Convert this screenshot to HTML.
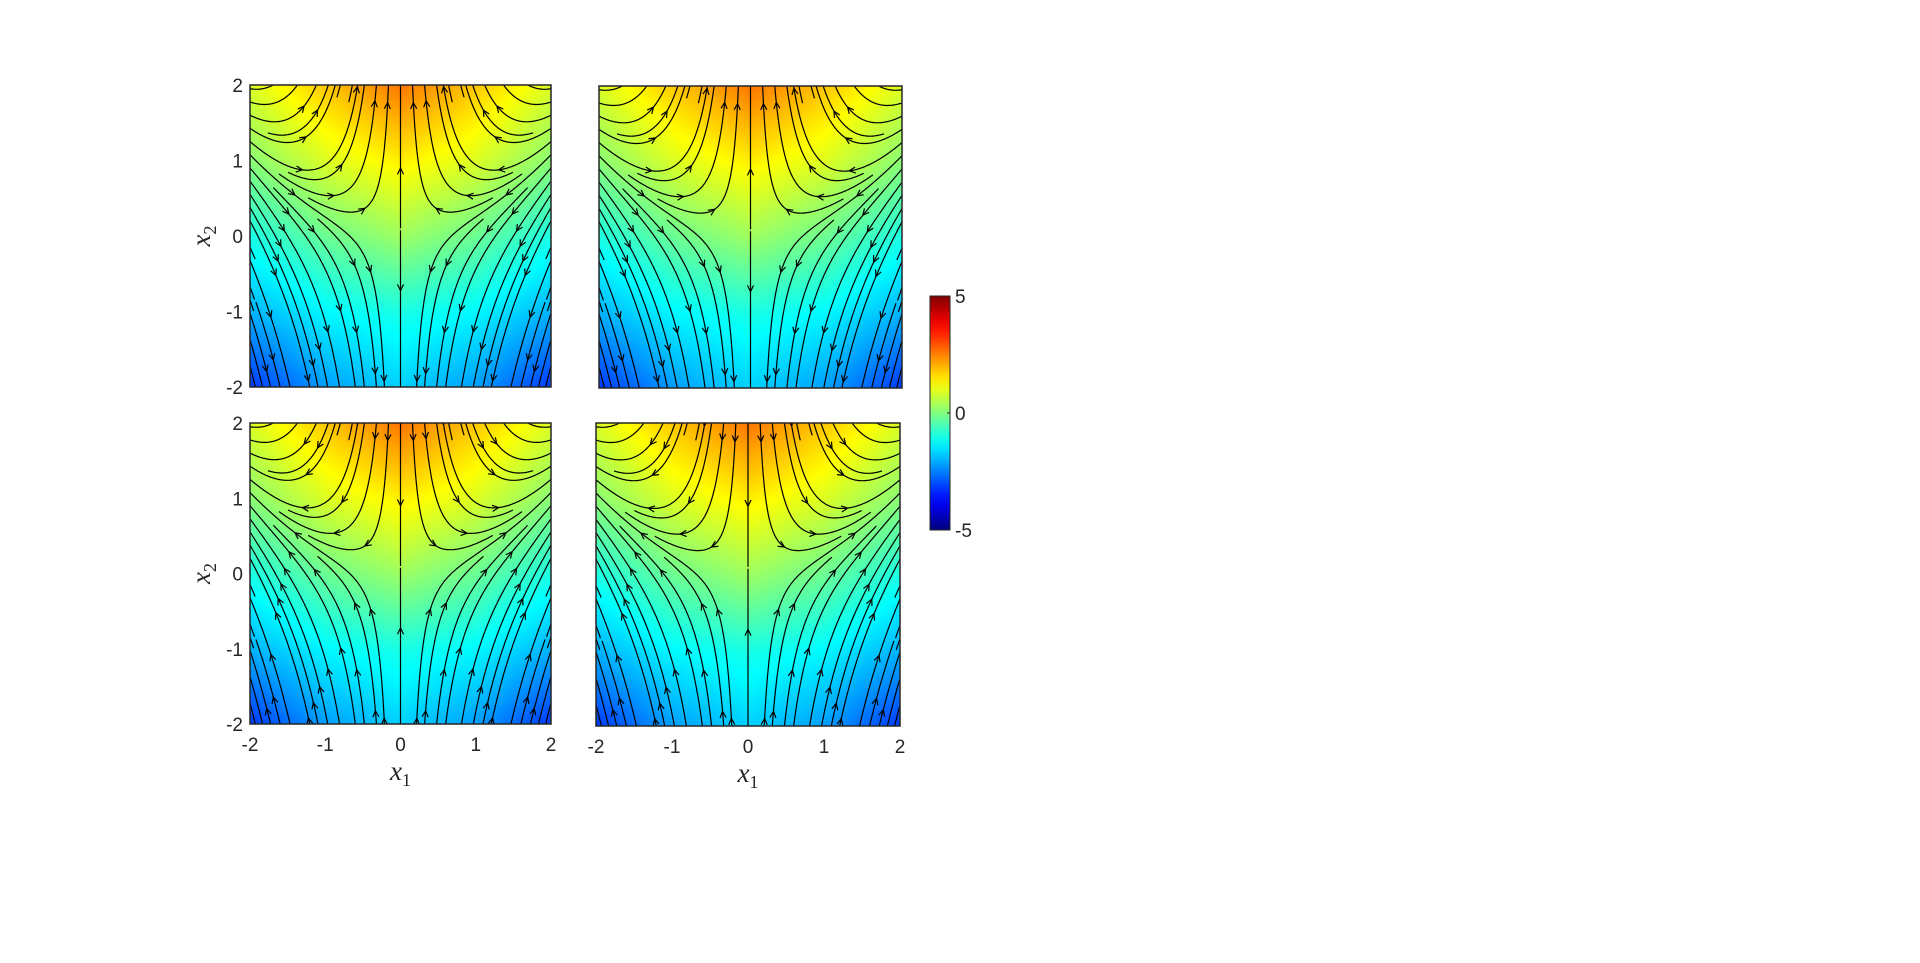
<!DOCTYPE html>
<html><head><meta charset="utf-8"><style>
body{margin:0;background:#fff;width:1920px;height:963px;overflow:hidden;position:relative;font-family:"Liberation Sans",sans-serif}
canvas{position:absolute}
svg{position:absolute;left:0;top:0}
</style></head><body>
<div id="root"></div>
<svg id="s" width="1920" height="963"></svg>
<script>
// data arrays
const xTicks=[-2,-1,0,1,2];
const yTicks=[-2,-1,0,1,2];
const cbTicks=[-5,0,5];
const heatRow2=[0.9,1.8,2.6,1.8,0.9];
const heatRow1=[0.1,0.9,1.4,0.9,0.1];
const heatRow0=[-1.0,-0.2,0.3,-0.2,-1.0];
const heatRowM1=[-2.0,-1.3,-1.0,-1.3,-2.0];
const heatRowM2=[-3.2,-2.2,-1.7,-2.2,-3.2];
const heat=[heatRow2,heatRow1,heatRow0,heatRowM1,heatRowM2];
const fieldGain=[2];
const fieldSaddleY=[0.1];

const panels=[
 {x0:250,x1:551,y0:85,y1:387,rev:false,ylab:true,xlab:false,name:'top-left'},
 {x0:599,x1:902,y0:86,y1:388,rev:false,ylab:false,xlab:false,name:'top-right'},
 {x0:250,x1:551,y0:423,y1:724,rev:true,ylab:true,xlab:true,name:'bottom-left'},
 {x0:596,x1:900,y0:423,y1:726,rev:true,ylab:false,xlab:true,name:'bottom-right'}];
const NS='http://www.w3.org/2000/svg';
const svg=document.getElementById('s');
function mk(t,a,p){const e=document.createElementNS(NS,t);for(const k in a)e.setAttribute(k,a[k]);(p||svg).appendChild(e);return e;}
function jet(v){v=Math.max(0,Math.min(1,v));
 const r=Math.max(0,Math.min(1,Math.min(4*v-1.5,-4*v+4.5)));
 const g=Math.max(0,Math.min(1,Math.min(4*v-0.5,-4*v+3.5)));
 const b=Math.max(0,Math.min(1,Math.min(4*v+0.5,-4*v+2.5)));
 return [r*255,g*255,b*255];}
function hv(x,y){
 let fi=(x+2),fj=(2-y);let i=Math.min(3,Math.floor(fi)),j=Math.min(3,Math.floor(fj));
 let u=fi-i,w=fj-j;
 return heat[j][i]*(1-u)*(1-w)+heat[j][i+1]*u*(1-w)+heat[j+1][i]*(1-u)*w+heat[j+1][i+1]*u*w;}
function F(x,y){return [-x,fieldGain[0]*(y-fieldSaddleY[0])-x*x];}
const NC=52,occ=new Int32Array(NC*NC).fill(-1);
function cell(x,y){const i=Math.floor((x+2)/4*NC),j=Math.floor((y+2)/4*NC);if(i<0||j<0||i>=NC||j>=NC)return -1;return j*NC+i;}
function half(x,y,dir,id){const pts=[];const h=0.008;
 for(let n=0;n<4000;n++){
  const k=F(x,y);let dx=k[0]*dir,dy=k[1]*dir;const m=Math.hypot(dx,dy);if(m<1e-3)break;
  x+=h*dx/m;y+=h*dy/m;
  if(x<-2||x>2||y<-2||y>2)break;
  const c=cell(x,y);if(c<0)break;if(occ[c]>=0&&occ[c]!==id)break;
  pts.push([x,y]);}
 return pts;}
const paths=[];
const seeds=[[0,0.14],[0,-0.06]];
for(let k=0;k<23;k++){const y=-1.9+k*0.175;seeds.push([-1.999,y]);seeds.push([1.999,y]);}
for(let k=0;k<25;k++){const x=-1.92+k*0.16;seeds.push([x,-1.999]);seeds.push([x,1.999]);}
seeds.forEach(s=>{
 const c=cell(s[0],s[1]);if(c<0||occ[c]>=0)return;
 const id=paths.length;
 const b=half(s[0],s[1],-1,id).reverse(),f=half(s[0],s[1],1,id);
 const pts=b.concat([s],f);
 if(pts.length<20)return;
 pts.forEach(q=>{const cc=cell(q[0],q[1]);if(cc>=0)occ[cc]=id;});
 paths.push(pts);});

panels.forEach(p=>{
 const W=p.x1-p.x0,H=p.y1-p.y0;
 const c=document.createElement('canvas');c.width=W;c.height=H;c.style.left=p.x0+'px';c.style.top=p.y0+'px';
 
 document.body.insertBefore(c,svg);
 const ctx=c.getContext('2d');const im=ctx.createImageData(W,H);
 for(let j=0;j<H;j++)for(let i=0;i<W;i++){const x=-2+4*i/W,y=2-4*j/H;const col=jet((hv(x,y)+5)/10);
  const o=(j*W+i)*4;im.data[o]=col[0];im.data[o+1]=col[1];im.data[o+2]=col[2];im.data[o+3]=255;}
 ctx.putImageData(im,0,0);
 const sx=x=>p.x0+(x+2)/4*W, sy=y=>p.y0+(2-y)/4*H;
 const g=mk('g',{});
 const cl=mk('clipPath',{id:'c'+p.name},g);mk('rect',{x:p.x0,y:p.y0,width:W,height:H},cl);
 const sg=mk('g',{'clip-path':'url(#c'+p.name+')'},g);
 paths.forEach((pts,idx)=>{
  let d='';pts.forEach((q,i)=>{d+=(i?'L':'M')+sx(q[0]).toFixed(1)+','+sy(q[1]).toFixed(1);});
  const e=mk('path',{d:d,fill:'none',stroke:'#000','stroke-width':1.2},sg);
  
  
  let acc=50;for(let i=1;i<pts.length;i++){const a=[sx(pts[i-1][0]),sy(pts[i-1][1])],b=[sx(pts[i][0]),sy(pts[i][1])];
   acc+=Math.hypot(b[0]-a[0],b[1]-a[1]);
   if(acc>110){acc=0;let ang=Math.atan2(b[1]-a[1],b[0]-a[0]);if(p.rev)ang+=Math.PI;
    const L=7,s=0.45;
    const ad='M'+(b[0]-L*Math.cos(ang-s))+','+(b[1]-L*Math.sin(ang-s))+'L'+b[0]+','+b[1]+'L'+(b[0]-L*Math.cos(ang+s))+','+(b[1]-L*Math.sin(ang+s));
    const ar=mk('path',{d:ad,fill:'none',stroke:'#000','stroke-width':1.2},sg);
    
    }}
 });
 mk('rect',{x:p.x0,y:p.y0,width:W,height:H,fill:'none',stroke:'#262626','stroke-width':1.5},g);
 if(p.ylab){yTicks.forEach(t=>{const e=mk('text',{x:p.x0-7,y:sy(t)+7,'text-anchor':'end','font-size':19,fill:'#262626'},g);e.textContent=t;
   });
  const yl=mk('text',{x:0,y:0,transform:'translate('+(p.x0-40)+','+(sy(0))+') rotate(-90)','text-anchor':'middle','font-size':27,'font-style':'italic','font-family':'Liberation Serif,serif',fill:'#262626'},g);
  yl.innerHTML='x<tspan font-size="18" dy="6" font-style="normal">2</tspan>';
  }
 if(p.xlab){xTicks.forEach(t=>{const e=mk('text',{x:sx(t),y:p.y1+27,'text-anchor':'middle','font-size':19,fill:'#262626'},g);e.textContent=t;
   });
  const xl=mk('text',{x:sx(0),y:p.y1+56,'text-anchor':'middle','font-size':27,'font-style':'italic','font-family':'Liberation Serif,serif',fill:'#262626'},g);
  xl.innerHTML='x<tspan font-size="18" dy="6" font-style="normal">1</tspan>';
  }
});
const cb={x0:930,x1:950,y0:296,y1:530};
const defs=mk('defs',{});const lg=mk('linearGradient',{id:'jg',x1:0,y1:1,x2:0,y2:0},defs);
for(let i=0;i<=20;i++){const c=jet(i/20);mk('stop',{offset:i/20,'stop-color':'rgb('+c.map(Math.round).join(',')+')'},lg);}
const cbg=mk('g',{});
mk('rect',{x:cb.x0,y:cb.y0,width:cb.x1-cb.x0,height:cb.y1-cb.y0,fill:'url(#jg)',stroke:'#262626','stroke-width':1},cbg);
cbTicks.forEach(t=>{const y=cb.y1-(t+5)/10*(cb.y1-cb.y0);
 mk('line',{x1:cb.x1-3,x2:cb.x1,y1:y,y2:y,stroke:'#262626'},cbg);
 const e=mk('text',{x:cb.x1+5,y:y+7,'font-size':19,fill:'#262626'},cbg);e.textContent=t;
 });
</script></body></html>
